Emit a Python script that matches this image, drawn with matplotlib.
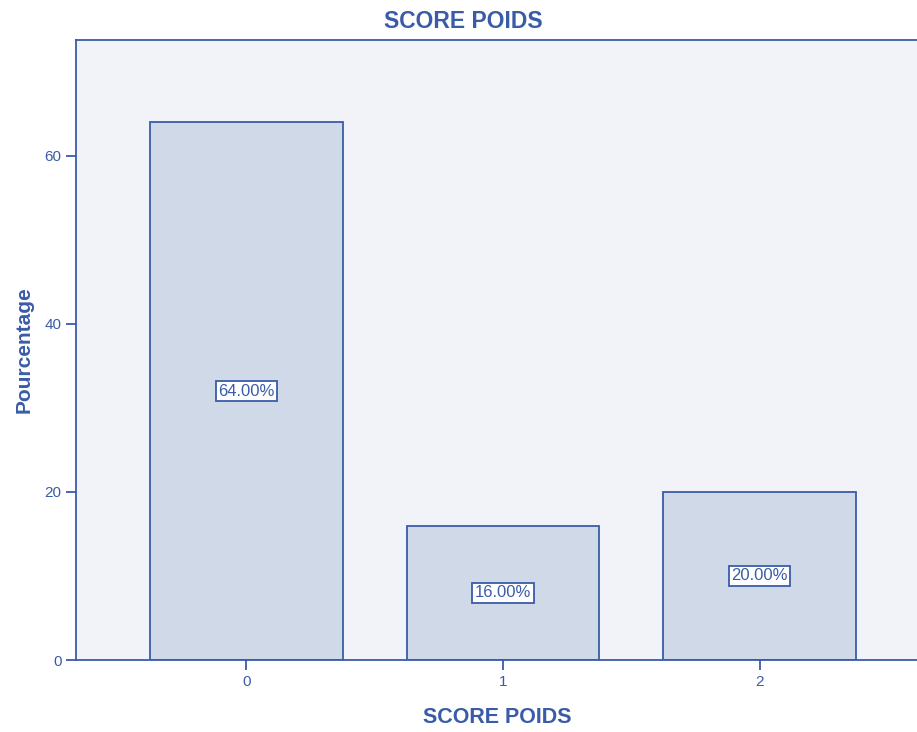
import matplotlib
matplotlib.use("Agg")
import matplotlib.pyplot as plt

categories = ["0", "1", "2"]
values = [64.0, 16.0, 20.0]
value_labels = ["64.00%", "16.00%", "20.00%"]
yticks = [0, 20, 40, 60]

blue = "#3a5ca8"
bg = "#f1f3f8"
barc = "#d0d9e8"

plt.rcParams['font.family'] = ['Liberation Sans', 'DejaVu Sans']

fig = plt.figure(figsize=(9.17, 7.32), dpi=100)
ax = fig.add_axes([76/917, 1-660/732, 1-76/917 + 0.002, (660-40)/732])
ax.set_facecolor(bg)
x = list(range(len(categories)))
ax.bar(x, values, width=0.75, color=barc, edgecolor=blue, linewidth=1.3, zorder=2)
ax.set_xlim(-0.664, 2.621)
ax.set_ylim(0, 73.8)
ax.set_xticks(x)
ax.set_xticklabels(categories)
ax.set_yticks(yticks)
ax.spines["right"].set_visible(False)
for s in ["left", "top", "bottom"]:
    ax.spines[s].set_color(blue)
    ax.spines[s].set_linewidth(1.3)
ax.tick_params(colors=blue, labelcolor=blue, labelsize=11, length=7, width=1.3, direction="out")
for xi, v, lab in zip(x, values, value_labels):
    ax.text(xi, v/2, lab, ha="center", va="center", fontsize=12, color=blue, zorder=3,
            bbox=dict(boxstyle="square,pad=0.15", fc="white", ec=blue, lw=1.3))
ax.set_xlabel("SCORE POIDS", fontsize=15.5, fontweight="bold", color=blue, labelpad=13)
ax.set_ylabel("Pourcentage", fontsize=15, fontweight="bold", color=blue, labelpad=8)
fig.text(463/917, 1-22/732, "SCORE POIDS", ha="center", va="center", fontsize=16.5, fontweight="bold", color=blue)
fig.savefig("out.png", dpi=100, facecolor="white")
